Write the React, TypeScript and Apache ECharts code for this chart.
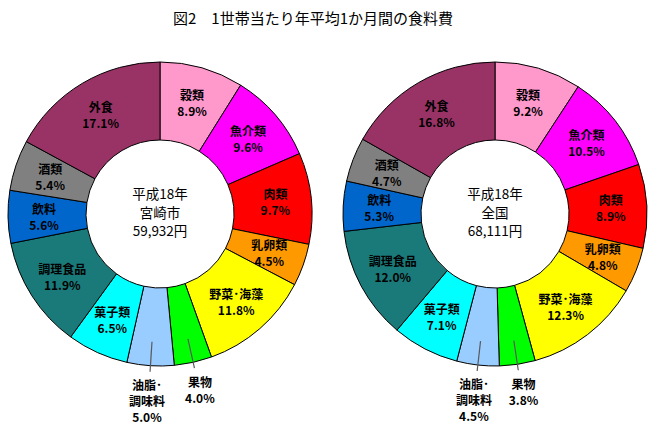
import React, { useEffect, useRef } from "react";
import * as echarts from "echarts";

const title = "図2　1世帯当たり年平均1か月間の食料費";
const categories = ["穀類", "魚介類", "肉類", "乳卵類", "野菜・海藻", "果物", "油脂・調味料", "菓子類", "調理食品", "飲料", "酒類", "外食"];
const labelNames = ["穀類", "魚介類", "肉類", "乳卵類", "野菜･海藻", "果物", "油脂･\n調味料", "菓子類", "調理食品", "飲料", "酒類", "外食"];
const miyazakiValues = [8.9, 9.6, 9.7, 4.5, 11.8, 4.0, 5.0, 6.5, 11.9, 5.6, 5.4, 17.1];
const zenkokuValues = [9.2, 10.5, 8.9, 4.8, 12.3, 3.8, 4.5, 7.1, 12.0, 5.3, 4.7, 16.8];
const colors = ["#FF99CC", "#FF00FF", "#FF0000", "#FF9900", "#FFFF00", "#00FF00", "#99CCFF", "#00FFFF", "#1A7A7A", "#0066CC", "#808080", "#993366"];
const centerLines = [
  ["平成18年", "宮崎市", "59,932円"],
  ["平成18年", "全国", "68,111円"],
];
const outsideIdx = [5, 6];

const FONT = "'Noto Sans CJK JP', sans-serif";
const centers: [number, number][] = [[160, 214], [495, 214]];
const R0 = 74;
const R1 = 152;
const seriesValues = [miyazakiValues, zenkokuValues];

// direction of a slice's middle (clockwise from 12 o'clock), from the data
function sliceDir(si: number, idx: number): [number, number] {
  const values = seriesValues[si];
  const total = values.reduce((a, b) => a + b, 0);
  let cum = 0;
  for (let k = 0; k < idx; k++) cum += values[k];
  const th = ((cum + values[idx] / 2) / total) * Math.PI * 2;
  return [Math.sin(th), -Math.cos(th)];
}

export default function App() {
  const ref = useRef<HTMLDivElement>(null);
  useEffect(() => {
    if (!ref.current) return;
    const chart = echarts.init(ref.current, null, { renderer: "svg" });

    const makeLayout = (si: number) => (params: any) => {
      if (!outsideIdx.includes(params.dataIndex)) return {};
      const [ux, uy] = sliceDir(si, params.dataIndex);
      const [cx, cy] = centers[si];
      const ex = cx + ux * 160, ey = cy + uy * 160;
      const shift = params.dataIndex === 5 ? 5 : -3;
      return { x: ex + shift, y: ey + 3, align: "center", verticalAlign: "top" };
    };

    const makeSeries = (values: number[], si: number) => ({
      type: "pie",
      center: centers[si],
      radius: [R0, R1],
      startAngle: 90,
      clockwise: true,
      avoidLabelOverlap: false,
      silent: true,
      label: {
        show: true,
        position: "inside",
        formatter: (p: any) => `${labelNames[p.dataIndex]}\n${Number(p.value).toFixed(1)}%`,
        fontSize: 12,
        fontWeight: "bold",
        lineHeight: 16,
        color: "#000",
        fontFamily: FONT,
      },
      labelLine: { show: false },
      labelLayout: makeLayout(si),
      itemStyle: { borderColor: "#000", borderWidth: 1 },
      data: values.map((v, i) => {
        const item: any = { name: categories[i], value: v, itemStyle: { color: colors[i] } };
        if (outsideIdx.includes(i)) item.label = { position: "outside", align: "center" };
        return item;
      }),
    });

    const graphics: any[] = [];
    centerLines.forEach((lines, si) => {
      lines.forEach((t, li) => {
        graphics.push({
          type: "text",
          x: centers[si][0],
          y: centers[si][1] - 21 + li * 18.5,
          style: {
            text: t,
            textAlign: "center",
            textVerticalAlign: "middle",
            fontSize: 13.5,
            lineHeight: 15,
            fill: "#000",
            fontFamily: FONT,
          },
          z: 100,
        });
      });
      // leader lines for the small slices
      outsideIdx.forEach((idx) => {
        const [ux, uy] = sliceDir(si, idx);
        const [cx, cy] = centers[si];
        graphics.push({
          type: "line",
          shape: { x1: cx + ux * 128, y1: cy + uy * 128, x2: cx + ux * 158, y2: cy + uy * 158 },
          style: { stroke: "#5a5a5a", lineWidth: 1.2 },
          z: 100,
        });
      });
    });

    const option: any = {
      animation: false,
      title: {
        text: title,
        left: 168,
        top: 5,
        textStyle: { fontSize: 15, fontWeight: "normal", color: "#000", fontFamily: FONT },
      },
      graphic: graphics,
      series: [makeSeries(miyazakiValues, 0), makeSeries(zenkokuValues, 1)],
    };
    chart.setOption(option);
    return () => chart.dispose();
  }, []);
  return <div ref={ref} style={{ position: "absolute", left: 0, top: 0, width: 660, height: 429, background: "#fff" }} />;
}
